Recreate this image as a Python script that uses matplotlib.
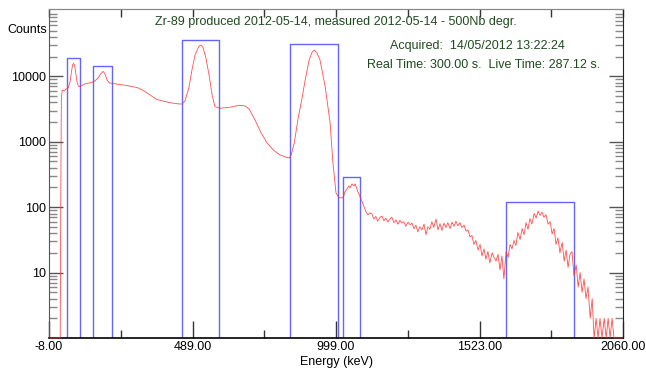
import numpy as np
import matplotlib.pyplot as plt
from matplotlib.ticker import FixedLocator, LogLocator, NullFormatter

plt.rcParams['font.family'] = ['Liberation Sans', 'DejaVu Sans']
plt.rcParams['font.size'] = 9

title = "Zr-89 produced 2012-05-14, measured 2012-05-14 - 500Nb degr."
acquired = "Acquired:  14/05/2012 13:22:24"
times = "Real Time: 300.00 s.  Live Time: 287.12 s."

# spectrum: smooth part (channel, counts)
channels_low = [0, 36, 40, 42, 44, 47, 54, 61, 68, 75, 80, 84, 88, 92, 96, 100, 105, 111,
                125, 143, 161, 175, 184, 193, 200, 207, 216, 230, 250, 268, 286, 314, 330,
                345, 361, 381, 399, 428, 464, 475, 485, 499, 510, 521, 535, 542, 549, 560,
                571, 582, 592, 610, 646, 678, 700, 714, 735, 757, 778, 800, 821, 843, 857,
                864, 875, 889, 903, 914, 928, 939, 946, 956, 967, 985, 1003, 1013, 1024,
                1035, 1049, 1056, 1063, 1070, 1074, 1081, 1088, 1092, 1095, 1102, 1109,
                1117, 1124, 1131, 1138, 1145]
counts_low = [0, 0, 0, 129, 4350, 6180, 5970, 6400, 6630, 8180, 11630, 14890, 15780, 14360,
              10840, 8190, 7110, 6940, 7620, 7900, 8330, 9420, 10840, 11920, 10840, 8790,
              7910, 7770, 7500, 7360, 7110, 6750, 6290, 5750, 5180, 4500, 4270, 3980, 3780,
              3780, 4200, 6630, 12480, 21130, 29050, 30090, 28010, 19010, 10470, 5190, 3460,
              3250, 3370, 3610, 3520, 3170, 2150, 1360, 959, 750, 640, 586, 566, 628, 959,
              2310, 4660, 8790, 17750, 23500, 25200, 22700, 17750, 7110, 1940, 474, 165,
              139, 139, 171, 190, 211, 197, 227, 211, 227, 211, 171, 149, 121, 101, 85, 76, 82]

# noisy high-energy part
channels_high = [1152, 1159, 1166, 1173, 1181, 1188, 1195,
                 1202, 1209, 1216, 1223, 1231, 1238, 1245,
                 1252, 1259, 1266, 1273, 1281, 1288, 1295,
                 1302, 1309, 1316, 1323, 1331, 1338, 1345,
                 1352, 1359, 1366, 1373, 1381, 1388, 1395,
                 1402, 1409, 1416, 1423, 1431, 1438, 1445,
                 1452, 1459, 1466, 1473, 1481, 1488, 1495,
                 1502, 1509, 1516, 1523, 1531, 1538, 1545,
                 1552, 1559, 1566, 1573, 1581, 1588, 1595,
                 1602, 1609, 1616, 1623, 1631, 1638, 1645,
                 1652, 1659, 1666, 1673, 1681, 1688, 1695,
                 1702, 1709, 1716, 1723, 1731, 1738, 1745,
                 1752, 1759, 1766, 1773, 1781, 1788, 1795,
                 1802, 1809, 1816, 1823, 1831, 1838, 1845,
                 1852, 1859, 1866, 1873, 1881, 1888, 1895,
                 1902, 1909, 1916, 1923, 1931, 1938, 1945,
                 1952, 1959, 1966, 1973, 1981, 1988, 1995,
                 2002, 2009, 2016, 2023, 2031, 2038, 2045, 2048]
counts_high = [79, 66, 72, 61, 70, 73, 62,
               68, 59, 66, 70, 58, 64, 55,
               63, 57, 60, 51, 59, 54, 57,
               47, 53, 42, 50, 45, 55, 38,
               50, 46, 60, 49, 66, 45, 56,
               44, 57, 49, 58, 47, 59, 51,
               61, 52, 58, 49, 53, 43, 45,
               35, 37, 27, 31, 22, 27, 18,
               23, 16, 21, 14, 20, 17, 15,
               19, 11, 18, 8, 21, 17, 27,
               23, 31, 26, 41, 32, 47, 38,
               58, 46, 67, 55, 80, 68, 87,
               75, 84, 70, 77, 55, 60, 39,
               47, 27, 34, 20, 29, 15, 22,
               12, 19, 21, 9, 13, 6, 10,
               5, 8, 4, 6, 2, 4, 1,
               2, 1, 2, 1, 2, 1, 2,
               1, 2, 1, 0, 0, 0, 0, 0]

# regions of interest (start channel, end channel, box height)
roi_start = [65, 158, 476, 859, 1050, 1632]
roi_end = [111, 226, 608, 1032, 1111, 1872]
roi_top = [19200, 14200, 35800, 30800, 293, 119]

tick_channels = [0, 512, 1024, 1536, 2048]
tick_labels = ["-8.00", "489.00", "999.00", "1523.00", "2060.00"]
minor_channels = [256, 768, 1280, 1792]
y_major = [10, 100, 1000, 10000]

ymin, ymax = 1, 1.07e5
text_green = '#1f4a1f'

channels = np.array(channels_low + channels_high)
counts = np.array(counts_low + counts_high, dtype=float)

fig = plt.figure(figsize=(6.46, 3.70), dpi=100)
ax = fig.add_axes([49 / 646, 32 / 370, 574 / 646, 329 / 370])

# zero counts sit on the bottom axis
ax.plot(channels, np.clip(counts, ymin, None), color='#ff3030', lw=0.6,
        alpha=0.85, zorder=3, clip_on=False)

for s, e, top in zip(roi_start, roi_end, roi_top):
    ax.plot([s, s, e, e], [ymin, top, top, ymin], color='#6464ff', lw=1, zorder=2)

ax.set_yscale('log')
ax.set_xlim(0, 2048)
ax.set_ylim(ymin, ymax)

ax.xaxis.set_major_locator(FixedLocator(tick_channels))
ax.set_xticklabels(tick_labels)
ax.xaxis.set_minor_locator(FixedLocator(minor_channels))
ax.yaxis.set_major_locator(FixedLocator(y_major))
ax.set_yticklabels([str(v) for v in y_major])
ax.yaxis.set_minor_locator(LogLocator(base=10, subs=np.arange(2, 10)))
ax.yaxis.set_minor_formatter(NullFormatter())

ax.tick_params(axis='x', which='major', direction='in', length=12, width=1,
               color='#333333', pad=2)
ax.tick_params(axis='x', which='minor', direction='in', length=6, width=1,
               color='#333333')
ax.tick_params(axis='y', which='major', direction='in', length=10, width=1,
               color='#555555', left=True, right=True, pad=2)
ax.tick_params(axis='y', which='minor', direction='in', length=6, width=1,
               color='#888888', left=True, right=True)

top_axis = ax.secondary_xaxis('top')
top_axis.set_xticks(tick_channels + minor_channels)
top_axis.set_xticklabels([])
top_axis.tick_params(direction='in', length=6, width=1, color='#333333')
top_axis.spines['top'].set_color('#888888')
top_axis.spines['top'].set_linewidth(0.8)

ax.spines['top'].set_color('#888888')
ax.spines['top'].set_linewidth(0.8)
ax.spines['left'].set_color('#555555')
ax.spines['right'].set_color('#222222')
ax.spines['bottom'].set_color('black')
ax.spines['bottom'].set_linewidth(1.2)

ax.set_xlabel("Energy (keV)", labelpad=2)
fig.text(27 / 646, 1 - 30 / 370, "Counts", ha='center', va='center')

fig.text(336 / 646, 1 - 22 / 370, title, ha='center', va='center', color=text_green)
fig.text(477 / 646, 1 - 46 / 370, acquired, ha='center', va='center', color=text_green)
fig.text(484 / 646, 1 - 65 / 370, times, ha='center', va='center', color=text_green)

fig.savefig('out.png', dpi=100)
